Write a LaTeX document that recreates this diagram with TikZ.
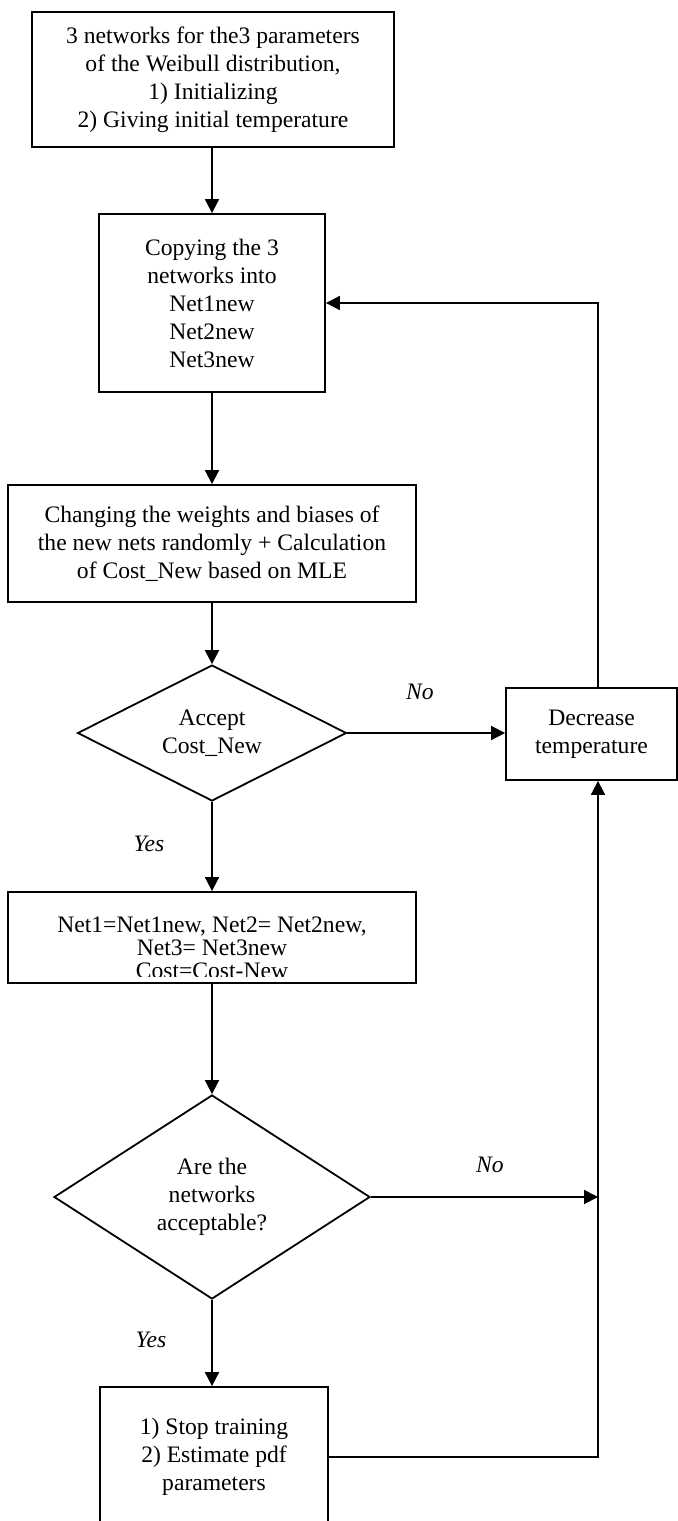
\documentclass[tikz,border=0pt]{standalone}
\usepackage{fontspec}
\setmainfont{Liberation Serif}
\usetikzlibrary{shapes.geometric,arrows.meta}
\begin{document}
\begin{tikzpicture}[x=0.5pt,y=-0.5pt,
  every node/.style={font=\fontsize{11.8}{14}\selectfont},
  box/.style={draw, line width=0.9pt, align=center, inner sep=0pt},
  dia/.style={draw, diamond, line width=0.9pt, align=center, inner sep=0pt},
  lbl/.style={font=\fontsize{11.8}{14}\selectfont\itshape},
  arr/.style={line width=0.9pt, -{Triangle[length=7pt,width=7pt]}},
  ln/.style={line width=0.9pt}]
\clip (0,0) rectangle (678,1521);
\fill[white] (0,0) rectangle (678,1521);

\node[box, minimum width=181pt, minimum height=67.5pt] (b1) at (213,79.5)
  {3 networks for the3 parameters\\of the Weibull distribution,\\1) Initializing\\2) Giving initial temperature};
\node[box, minimum width=113pt, minimum height=89pt] (b2) at (212,303)
  {Copying the 3\\networks into\\Net1new\\Net2new\\Net3new};
\node[box, minimum width=204pt, minimum height=58.5pt] (b3) at (212,543.5)
  {Changing the weights and biases of\\the new nets randomly + Calculation\\of Cost\_New based on MLE};
\node[dia, aspect=2, minimum width=134.5pt, minimum height=68pt] (d1) at (212,733)
  {Accept\\Cost\_New};
\node[box, minimum width=85.5pt, minimum height=46pt] (dec) at (591.5,734)
  {Decrease\\temperature};
\node[box, minimum width=204pt, minimum height=45.5pt] (net) at (212,937.5) {};
\begin{scope}
  \clip (8,892) rectangle (416,976);
  \node[font=\fontsize{11.8}{11.5}\selectfont, align=center] (nettext) at (212,948)
    {Net1=Net1new, Net2= Net2new,\\Net3= Net3new\\Cost=Cost-New};
\end{scope}
\node[dia, aspect=1.55, minimum width=158pt, minimum height=102pt] (d2) at (212,1197)
  {Are the\\networks\\acceptable?};
\node[box, minimum width=114pt, minimum height=70pt] (bot) at (214,1457)
  {1) Stop training\\2) Estimate pdf\\parameters};

\node[lbl] (no1) at (420,692) {No};
\node[lbl] (yes1) at (149,844) {Yes};
\node[lbl] (no2) at (490,1165) {No};
\node[lbl] (yes2) at (151,1340) {Yes};

\coordinate (j1) at (598,1197);
\coordinate (j2) at (598,1457);

\draw[arr] (b1.south -| d1.north) -- (b2.north -| d1.north);
\draw[arr] (b2.south -| d1.north) -- (b3.north -| d1.north);
\draw[arr] (d1.north |- b3.south) -- (d1.north);
\draw[arr] (d1.east) -- (d1.east -| dec.west);
\draw[arr] (d1.south) -- (d1.south |- net.north);
\draw[arr] (net.south) -- (net.south |- d2.north);
\draw[arr] (d2.east) -- (j1);
\draw[arr] (d2.south) -- (d2.south |- bot.north);
\draw[arr] (bot.east) -- (j2) -- (j2 |- dec.south);
\draw[arr] (j2 |- dec.north) -- (j2 |- b2.east) -- (b2.east);
\end{tikzpicture}
\end{document}
